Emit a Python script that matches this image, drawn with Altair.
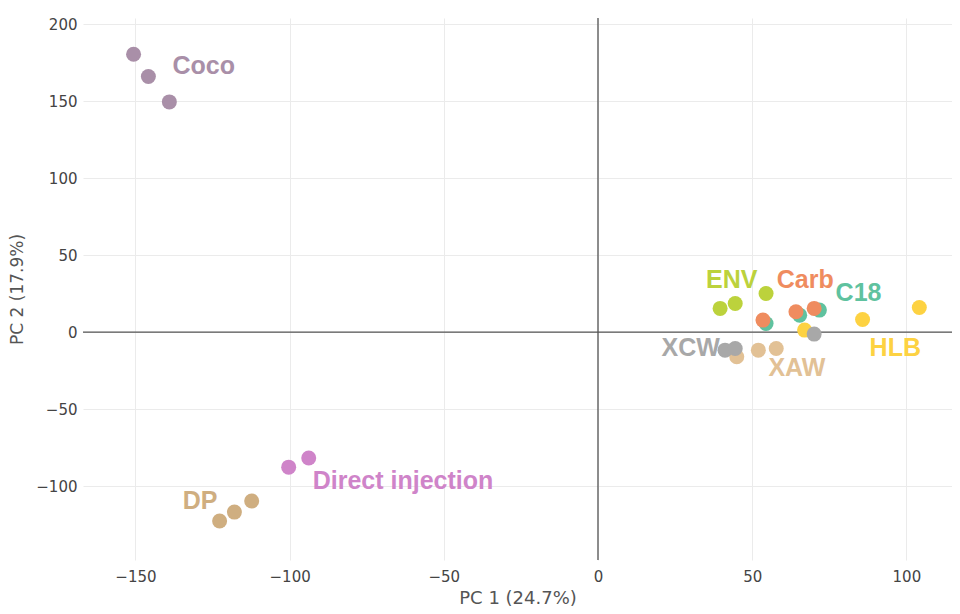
import altair as alt
import pandas as pd

groups = ["C18", "Carb", "ENV", "HLB", "XAW", "XCW", "Coco", "Direct injection", "DP"]
colors = ["#5fc29f", "#ef8c5f", "#bcd23c", "#fdd242", "#e2c195", "#a8a8a8", "#a98fa8", "#cf84c9", "#cfae80"]

pc1 = {
    "C18": [54.5, 65.4, 71.8],
    "Carb": [53.5, 64.2, 70.1],
    "ENV": [39.6, 44.5, 54.5],
    "HLB": [67.0, 85.8, 104.2],
    "XAW": [45.0, 52.0, 57.8],
    "XCW": [41.2, 44.5, 70.1],
    "Coco": [-150.6, -145.8, -139.0],
    "Direct injection": [-100.3, -93.8],
    "DP": [-122.7, -117.9, -112.3],
}
pc2 = {
    "C18": [5.6, 11.0, 14.3],
    "Carb": [7.8, 13.2, 15.4],
    "ENV": [15.4, 18.6, 25.1],
    "HLB": [1.3, 8.2, 16.0],
    "XAW": [-16.0, -11.7, -10.6],
    "XCW": [-11.7, -10.6, -1.3],
    "Coco": [180.5, 166.0, 149.5],
    "Direct injection": [-87.7, -81.8],
    "DP": [-122.7, -116.9, -109.7],
}

label_x = [84.5, 67.2, 43.4, 96.4, 64.5, 39.5, -138.0, -92.5, -123.4]
label_y = [25.1, 33.8, 33.8, -10.6, -23.6, -10.6, 173.0, -97.0, -110.0]
label_align = ["center", "center", "center", "center", "center", "right", "left", "left", "right"]

rows = []
for g in groups:
    for i, (a, b) in enumerate(zip(pc1[g], pc2[g])):
        rows.append({"group": g, "pc1": a, "pc2": b, "order": groups.index(g)})
points = pd.DataFrame(rows)
labels = pd.DataFrame({"group": groups, "x": label_x, "y": label_y, "align": label_align})

xdom = [-167, 114.8]
ydom = [-148, 204]
cscale = alt.Scale(domain=groups, range=colors)

xenc = alt.X("pc1:Q", scale=alt.Scale(domain=xdom, nice=False, zero=False),
             axis=alt.Axis(title="PC 1 (24.7%)", values=[-150, -100, -50, 0, 50, 100]))
yenc = alt.Y("pc2:Q", scale=alt.Scale(domain=ydom, nice=False, zero=False),
             axis=alt.Axis(title="PC 2 (17.9%)", values=[-100, -50, 0, 50, 100, 150, 200]))

zero = pd.DataFrame({"v": [0]})
vline = alt.Chart(zero).mark_rule(color="#555", strokeWidth=1.3).encode(
    x=alt.X("v:Q", scale=alt.Scale(domain=xdom, nice=False)))
hline = alt.Chart(zero).mark_rule(color="#555", strokeWidth=1.3).encode(
    y=alt.Y("v:Q", scale=alt.Scale(domain=ydom, nice=False)))

pts = alt.Chart(points).mark_circle(size=225, opacity=1).encode(
    x=xenc, y=yenc,
    color=alt.Color("group:N", scale=cscale, legend=None),
    order=alt.Order("order:Q"),
)

texts = []
for al in ["left", "center", "right"]:
    sub = labels[labels["align"] == al]
    texts.append(
        alt.Chart(sub).mark_text(align=al, baseline="middle", fontSize=25, fontWeight="bold",
                                 font="Liberation Sans").encode(
            x=alt.X("x:Q", scale=alt.Scale(domain=xdom, nice=False)),
            y=alt.Y("y:Q", scale=alt.Scale(domain=ydom, nice=False)),
            text="group:N",
            color=alt.Color("group:N", scale=cscale, legend=None),
        )
    )

chart = alt.layer(vline, hline, pts, *texts).properties(
    width=869, height=542,
    autosize=alt.AutoSizeParams(type="none"),
    padding={"left": 75, "top": 10, "right": 0, "bottom": 50},
).configure_axis(
    grid=True, gridColor="#ebebeb", domain=False, ticks=False,
    labelFont="DejaVu Sans", labelFontSize=15, labelColor="#444",
    titleFont="DejaVu Sans", titleColor="#555", titleFontWeight="normal",
).configure_axisY(titlePadding=9, labelPadding=6, titleFontSize=17
).configure_axisX(titlePadding=5, labelPadding=9, titleFontSize=18
).configure_view(stroke=None)

chart.save("out.html", embed_options={"renderer": "svg", "actions": False})
